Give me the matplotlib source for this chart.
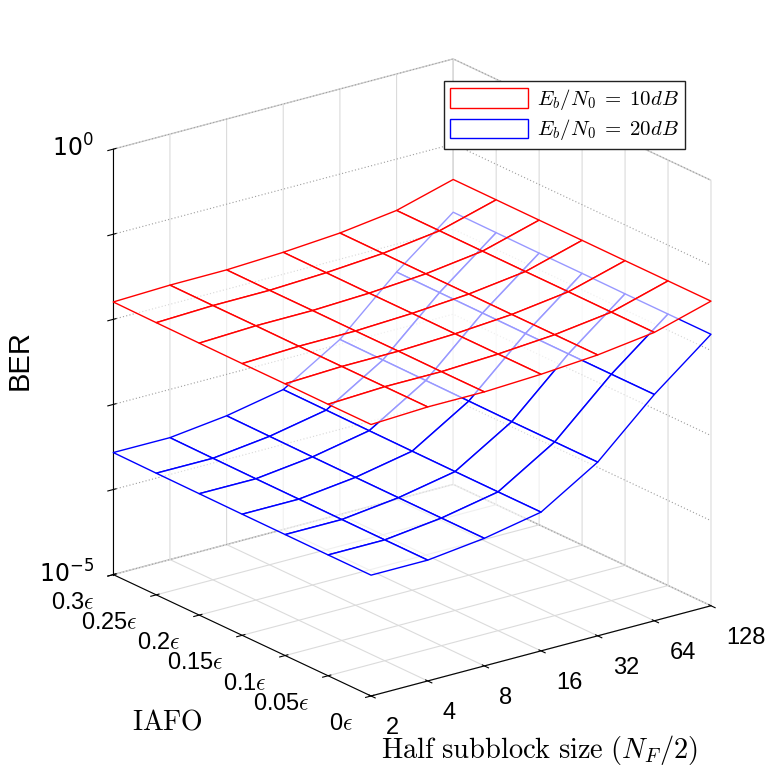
import numpy as np
import matplotlib
matplotlib.use('Agg')
import matplotlib.pyplot as plt
from matplotlib.patches import Patch

# half subblock size (N_F/2) and IAFO values
subblock = [2, 4, 8, 16, 32, 64, 128]
iafo = [0, 0.05, 0.1, 0.15, 0.2, 0.25, 0.3]
iafo_labels = [r'0$\epsilon$', r'0.05$\epsilon$', r'0.1$\epsilon$', r'0.15$\epsilon$',
               r'0.2$\epsilon$', r'0.25$\epsilon$', r'0.3$\epsilon$']

# BER, one row per IAFO value (0 ... 0.3 eps)
ber_10dB = [
    [0.0155, 0.0166, 0.0166, 0.0178, 0.0200, 0.0245, 0.0380],
    [0.0155, 0.0166, 0.0166, 0.0178, 0.0200, 0.0245, 0.0380],
    [0.0156, 0.0166, 0.0167, 0.0178, 0.0200, 0.0246, 0.0380],
    [0.0156, 0.0166, 0.0167, 0.0179, 0.0201, 0.0246, 0.0381],
    [0.0157, 0.0167, 0.0168, 0.0179, 0.0201, 0.0247, 0.0381],
    [0.0158, 0.0167, 0.0168, 0.0180, 0.0202, 0.0248, 0.0382],
    [0.0160, 0.0168, 0.0169, 0.0181, 0.0203, 0.0249, 0.0383],
]
ber_20dB = [
    [2.63e-4, 2.63e-4, 3.16e-4, 4.27e-4, 1.10e-3, 4.57e-3, 1.55e-2],
    [2.63e-4, 2.63e-4, 3.16e-4, 4.27e-4, 1.10e-3, 4.57e-3, 1.55e-2],
    [2.64e-4, 2.64e-4, 3.17e-4, 4.28e-4, 1.10e-3, 4.58e-3, 1.55e-2],
    [2.65e-4, 2.65e-4, 3.18e-4, 4.30e-4, 1.11e-3, 4.60e-3, 1.56e-2],
    [2.67e-4, 2.66e-4, 3.20e-4, 4.33e-4, 1.12e-3, 4.63e-3, 1.56e-2],
    [2.69e-4, 2.68e-4, 3.23e-4, 4.37e-4, 1.13e-3, 4.66e-3, 1.57e-2],
    [2.72e-4, 2.71e-4, 3.26e-4, 4.41e-4, 1.14e-3, 4.70e-3, 1.58e-2],
]
decades = [-5, -4, -3, -2, -1, 0]

plt.rcParams['font.family'] = ['Liberation Sans', 'DejaVu Sans']
plt.rcParams['mathtext.fontset'] = 'cm'

X, Y = np.meshgrid(np.log2(subblock), iafo)

fig = plt.figure(figsize=(7.81, 7.81), dpi=100)
ax = fig.add_axes([0.045, 0.034, 0.94, 0.94], projection='3d')
ax.set_proj_type('ortho')
ax.view_init(elev=20.7, azim=-126.9)
ax.set_box_aspect((1, 1.01, 1.07))

ax.plot_surface(X, Y, np.log10(ber_20dB), color=(1, 1, 1, 0.6), edgecolor='blue',
                linewidth=1.0, shade=False, rstride=1, cstride=1)
ax.plot_surface(X, Y, np.log10(ber_10dB), color=(1, 1, 1, 0.6), edgecolor='red',
                linewidth=1.0, shade=False, rstride=1, cstride=1)

ax.set_xlim(1, 7)
ax.set_ylim(0, 0.3)
ax.set_zlim(-5, 0)
ax.set_xticks(np.log2(subblock))
ax.set_xticklabels([str(s) for s in subblock], fontsize=17, ha='left', va='center')
ax.set_yticks(iafo)
ax.set_yticklabels(iafo_labels, fontsize=17, ha='right', va='center')
ax.set_zticks(decades)
ax.set_zticklabels([r'$10^{-5}$', '', '', '', '', r'$10^{0}$'], fontsize=17,
                   ha='right', va='center', math_fontfamily='dejavusans')
ax.tick_params(axis='x', pad=8)
ax.tick_params(axis='y', pad=7)
ax.tick_params(axis='z', pad=1)

for axis in (ax.xaxis, ax.yaxis, ax.zaxis):
    axis.set_pane_color((1, 1, 1, 1))
    axis.pane.set_edgecolor((0.82, 0.82, 0.82, 1))
    axis._axinfo['grid']['color'] = (0.86, 0.86, 0.86, 1)
    axis._axinfo['grid']['linewidth'] = 0.8
    axis.line.set_color('black')
# decade grid lines on the walls are dotted
ax.zaxis._axinfo['grid']['linestyle'] = (0, (1, 2))
ax.zaxis._axinfo['grid']['color'] = (0.62, 0.62, 0.62, 1)

fig.text(20 / 781, 1 - 360 / 781, 'BER', fontsize=21, rotation=90, ha='center', va='center')
fig.text(167 / 781, 1 - 722 / 781, r'$\mathrm{IAFO}$', fontsize=20, ha='center', va='center')
fig.text(540 / 781, 1 - 750 / 781, r'$\mathrm{Half\ subblock\ size}\ (N_F/2)$', fontsize=20.5,
         ha='center', va='center')

handles = [Patch(facecolor='white', edgecolor='red'), Patch(facecolor='white', edgecolor='blue')]
fig.legend(handles, [r'$E_b/N_0\;=\;10dB$', r'$E_b/N_0\;=\;20dB$'], loc='upper right',
           bbox_to_anchor=(685 / 781, 1 - 81 / 781), bbox_transform=fig.transFigure,
           borderaxespad=0, fontsize=15, frameon=True, fancybox=False, edgecolor='#222222',
           framealpha=1, handlelength=3.7, handleheight=1.05, handletextpad=0.45,
           borderpad=0.3, labelspacing=0.25)

fig.savefig('out.png', dpi=100)
